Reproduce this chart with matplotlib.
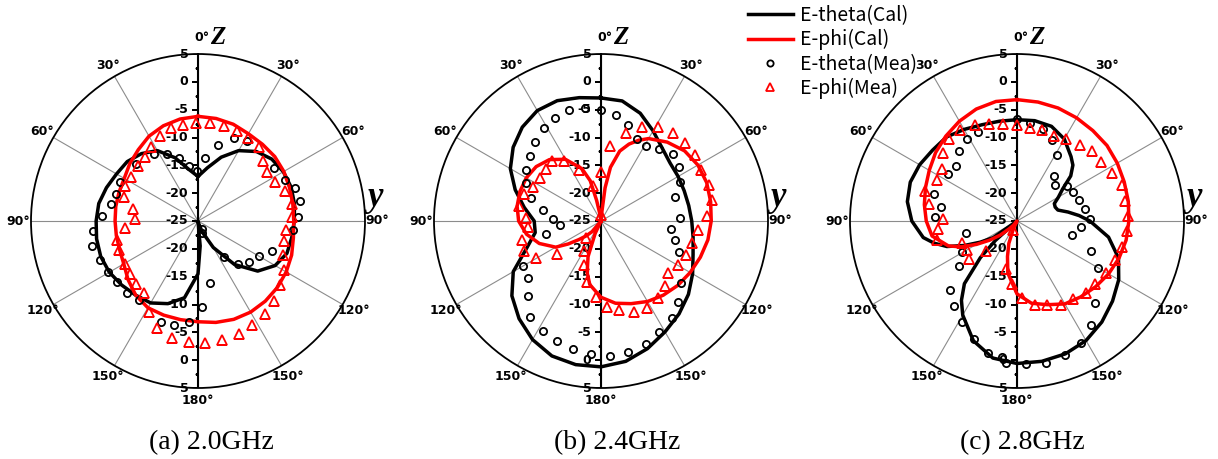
import matplotlib.pyplot as plt
import numpy as np
from matplotlib.lines import Line2D

# angles in degrees, clockwise from +z (top); levels in dB

# ---------- (a) 2.0GHz ----------
a_th_cal_ang = [0, 10, 20, 30, 40, 50, 60, 70, 80, 90, 100, 110, 120, 130, 140, 150, 160, 165,
                170, 175, 180, 190, 200, 210, 220, 230, 240, 250, 260, 270, 280, 290, 300, 310,
                320, 330, 340, 350, 360]
a_th_cal_db = [-17.0, -15.3, -12.8, -10.4, -8.7, -7.7, -7.3, -7.2, -7.4, -7.7, -7.9, -8.0, -9.0,
               -11.0, -14.8, -19.5, -23.0, -24.5, -25.0, -20.5, -15.5, -11.0, -9.2, -8.0, -7.6,
               -7.1, -6.6, -6.4, -6.5, -6.7, -6.9, -7.5, -8.1, -8.4, -9.2, -10.4, -12.9, -15.6,
               -17.0]
a_ph_cal_ang = list(range(0, 361, 10))
a_ph_cal_db = [-6.2, -6.3, -6.5, -6.9, -7.0, -7.0, -7.2, -7.5, -7.7, -7.8, -7.6, -7.1, -6.7,
               -6.4, -6.2, -6.1, -6.2, -6.5, -6.9, -7.0, -7.0, -7.0, -7.6, -8.6, -9.6, -10.0,
               -10.1, -10.1, -10.0, -9.9, -9.7, -9.0, -8.3, -7.4, -6.8, -6.4, -6.2]
a_th_mea_ang = [6.4, 14.5, 23.1, 31.3, 55, 64.5, 71.3, 79, 87.7, 95.6, 112, 120.2, 129, 136.8,
                144.5, 155, 164, 169.3, 177.4, 184.9, 193.1, 200.3, 216.8, 224.7, 232.7, 240.6,
                248.6, 256.6, 264.6, 272.8, 280.8, 288.3, 296.7, 312.5, 327, 335.3, 343.6,
                350.4, 358.9]
a_th_mea_db = [-13.7, -10.9, -8.7, -8.1, -8.4, -7.7, -6.6, -6.4, -7.1, -7.8, -10.7, -12.4,
               -13.3, -14.5, -17.1, -23.4, -22.7, -13.7, -9.5, -6.7, -5.8, -5.6, -7.2, -6.9,
               -6.8, -6.4, -6.0, -5.5, -6.1, -7.8, -9.0, -9.4, -9.4, -9.8, -10.6, -11.7, -13.2,
               -15.0, -16.0]
a_ph_mea_ang = [358.8, 6.8, 15.2, 23.3, 30.8, 39.3, 47.3, 54.6, 63.2, 71, 79.6, 87.6, 96, 103.1,
                112, 119.4, 128, 136.5, 144, 152.4, 160.2, 168.6, 176.6, 184.4, 192.6, 201,
                208.5, 216.7, 224.5, 232, 239.8, 249.5, 257, 264.5, 272, 280.7, 287.9, 295.7,
                303.4, 312.3, 320.2, 327.8, 335.6, 343.8, 351.2]
a_ph_mea_db = [-7.4, -7.3, -7.4, -7.3, -7.6, -7.8, -9.0, -9.8, -9.5, -8.4, -7.8, -8.1, -9.1,
               -9.2, -8.6, -7.2, -6.3, -5.2, -4.4, -3.9, -3.5, -3.2, -3.1, -3.2, -3.5, -4.4,
               -6.4, -8.9, -9.2, -9.5, -9.8, -9.9, -10.1, -11.9, -13.6, -13.1, -11.0, -10.5,
               -10.5, -10.4, -10.1, -9.3, -8.3, -7.6, -7.5]

# ---------- (b) 2.4GHz ----------
b_th_cal_ang = list(range(0, 361, 10))
b_th_cal_db = [-2.9, -3.1, -4.4, -6.3, -7.9, -8.8, -9.0, -9.1, -9.0, -8.7, -8.2, -7.4, -6.0,
               -4.5, -3.2, -2.0, -0.6, 0.6, 1.2, 1.2, 0.8, -0.4, -2.1, -4.1, -6.8, -10.8, -13.0,
               -13.0, -11.0, -8.6, -6.2, -4.4, -3.0, -2.1, -2.0, -2.5, -2.9]
b_ph_cal_ang = [0, 4, 7, 10, 15, 20, 25, 30, 40, 50, 60, 70, 80, 90, 100, 110, 120, 130, 140,
                150, 160, 170, 180, 190, 195, 200, 205, 210, 215, 220, 225, 230, 235, 240, 250,
                260, 270, 280, 290, 300, 310, 320, 330, 340, 345, 348, 352, 355, 360]
b_ph_cal_db = [-25.0, -24.0, -19.0, -15.2, -12.0, -10.3, -9.0, -7.9, -6.5, -5.4, -4.9, -4.8,
               -5.0, -5.2, -5.5, -6.0, -6.5, -7.0, -7.6, -8.3, -9.2, -10.0, -11.3, -13.4, -15.4,
               -18.2, -22.5, -25.0, -25.0, -22.5, -21.2, -19.8, -17.8, -15.6, -13.2, -11.4,
               -10.2, -9.7, -9.5, -9.5, -9.8, -10.6, -12.2, -15.0, -17.5, -21.2, -24.0, -25.0,
               -25.0]
b_th_mea_ang = [0, 8, 15.8, 23.4, 31.1, 39.1, 47.1, 55.1, 63.7, 72, 87.6, 96.2, 104.2, 112,
                128, 136.3, 144.1, 152.4, 160, 168.2, 176.2, 184.4, 192.1, 200.3, 207.9, 216.3,
                224.4, 232.3, 240.1, 256.5, 264.9, 272, 280.4, 288.4, 296.9, 304.4, 312.5,
                320.4, 328.5, 336, 343.9, 352]
b_th_mea_db = [-5.0, -5.7, -7.0, -8.9, -9.2, -8.4, -7.4, -7.9, -9.2, -11.1, -10.8, -12.3,
               -11.3, -9.9, -6.8, -4.9, -3.4, -2.4, -1.5, -1.0, -0.7, -1.0, -1.4, -2.1, -2.6,
               -3.5, -6.2, -8.4, -8.8, -14.8, -17.6, -16.3, -14.4, -11.8, -9.9, -8.7, -7.7,
               -6.5, -5.5, -4.7, -4.3, -4.5]
b_ph_mea_ang = [0, 6.8, 15.9, 23.4, 31.1, 39.3, 47.1, 55.1, 63.3, 71.5, 79.4, 87.5, 95.5,
                103.3, 112, 120, 128, 135.6, 143.6, 152.2, 159.9, 168.4, 176.2, 183.7, 193.2,
                200.9, 209, 222.6, 233.1, 240.7, 248.7, 256.7, 265.3, 272.3, 280.4, 289, 296.7,
                305.2, 313.4, 320.9, 328.6, 336.9, 347.9, 355]
b_ph_mea_db = [-16.2, -11.4, -8.6, -6.6, -5.3, -4.6, -4.4, -4.4, -4.8, -4.5, -4.8, -5.9, -7.5,
               -8.2, -8.6, -9.1, -9.7, -8.6, -7.8, -7.4, -7.6, -8.6, -9.5, -11.3, -13.8, -16.6,
               -18.8, -20.9, -15.1, -11.6, -10.2, -10.5, -11.9, -11.6, -10.1, -10.3, -11.4,
               -11.6, -11.4, -11.1, -12.3, -15.0, -18.5, -24.0]

# ---------- (c) 2.8GHz ----------
c_th_cal_ang = [0, 10, 20, 30, 40, 45, 50, 55, 60, 65, 70, 75, 80, 85, 90, 100, 110, 120, 130,
                140, 150, 160, 170, 180, 190, 200, 210, 215, 220, 225, 228, 231, 235, 240, 245,
                250, 255, 260, 270, 280, 290, 300, 310, 320, 330, 340, 350, 360]
c_th_cal_db = [-6.8, -6.7, -6.9, -8.0, -9.9, -10.8, -12.4, -15.0, -16.4, -17.6, -17.7, -17.4,
               -15.7, -13.8, -11.9, -8.3, -5.6, -3.9, -2.6, -1.3, -0.2, 0.4, 0.6, 0.6, 0.0,
               -2.1, -5.5, -7.6, -10.3, -15.7, -19.8, -25.0, -19.8, -17.4, -14.6, -11.6, -9.6,
               -7.9, -6.1, -5.0, -4.6, -4.8, -5.2, -5.3, -6.0, -6.6, -6.8, -6.8]
c_ph_cal_ang = [0, 10, 20, 30, 40, 50, 60, 70, 80, 90, 100, 110, 120, 130, 140, 150, 160, 170,
                180, 190, 195, 200, 205, 210, 215, 220, 225, 230, 235, 240, 245, 250, 260, 270,
                280, 290, 300, 310, 320, 330, 340, 350, 360]
c_ph_cal_db = [-3.2, -3.3, -3.4, -3.6, -3.8, -3.9, -4.2, -4.5, -4.7, -4.9, -5.1, -5.5, -6.0,
               -6.6, -7.2, -7.8, -9.0, -10.0, -11.9, -15.5, -18.4, -20.7, -23.5, -25.0, -25.0,
               -24.0, -23.0, -21.0, -19.0, -16.6, -14.0, -11.9, -9.5, -8.7, -8.1, -7.5, -6.8,
               -5.9, -5.1, -4.3, -3.6, -3.2, -3.2]
c_th_mea_ang = [0, 7.4, 15.7, 23.5, 31.1, 39.2, 46.6, 55, 62.9, 71, 79.8, 88.2, 95.4, 103.9,
                112, 120.1, 136.4, 144.5, 152.1, 160.4, 168.4, 176.3, 184.3, 186.1, 192.3, 200,
                208.4, 216.6, 224.2, 232.4, 240.9, 256.8, 272.8, 280.5, 288.2, 304.5, 312.2,
                320.2, 328.4, 336.5]
c_th_mea_db = [-6.6, -7.3, -7.8, -9.1, -11.1, -14.6, -15.7, -14.1, -13.6, -13.2, -12.5, -11.8,
               -13.5, -14.8, -10.7, -8.2, -4.6, -2.0, -0.3, 0.5, 1.1, 0.8, 0.5, -0.4, -0.7,
               -2.4, -4.4, -5.9, -7.8, -11.8, -13.6, -15.6, -10.2, -11.2, -9.3, -10.0, -10.2,
               -8.7, -7.7, -7.5]
c_ph_mea_ang = [0, 7.8, 15.3, 23.2, 30.9, 39.6, 47, 55, 63.1, 70.9, 79.7, 87.6, 95.4, 103.8,
                111.4, 120.2, 128.7, 136.1, 144.4, 152.6, 160.2, 168.1, 176.3, 184.6, 192.4,
                203, 225.6, 232, 240, 248.7, 256.9, 264.5, 271.8, 280.7, 288, 296.8, 304.9,
                312.5, 320.3, 328.2, 336.3, 343.8, 351.8]
c_ph_mea_db = [-7.7, -8.1, -8.0, -8.3, -7.8, -7.2, -6.6, -6.5, -5.8, -5.1, -5.2, -5.1, -5.2,
               -5.5, -6.0, -6.5, -7.0, -7.1, -7.7, -8.0, -8.9, -9.6, -11.1, -13.7, -16.1, -23.2,
               -17.3, -14.0, -14.7, -14.3, -10.3, -10.7, -11.7, -8.9, -7.6, -8.8, -8.6, -6.9,
               -5.8, -5.7, -6.1, -6.8, -7.4]

captions = ["(a) 2.0GHz", "(b) 2.4GHz", "(c) 2.8GHz"]
legend_labels = ["E-theta(Cal)", "E-phi(Cal)", "E-theta(Mea)", "E-phi(Mea)"]

RMIN, RMAX = -25, 5
RED = "#ff0000"
BOLD = dict(family="DejaVu Sans", weight="bold", size=9)


def rad(deg):
    return np.deg2rad(np.asarray(deg, dtype=float))


def draw_panel(ax, th_cal, ph_cal, th_mea, ph_mea):
    ax.set_theta_zero_location("N")
    ax.set_theta_direction(-1)
    ax.set_rlim(RMIN, RMAX)
    ax.set_yticks([])
    ax.set_xticks(rad(np.arange(0, 360, 30)))
    ax.set_xticklabels([])
    ax.tick_params(axis="x", length=0)
    ax.grid(True, color="#8c8c8c", lw=0.8)
    ax.spines["polar"].set_linewidth(1.3)
    ax.set_facecolor("none")

    # vertical z axis with ticks and labels on both halves
    ax.plot([0, 0], [RMIN, RMAX], color="k", lw=1.5, zorder=3)
    ax.plot([np.pi, np.pi], [RMIN, RMAX], color="k", lw=1.5, zorder=3)
    major = np.arange(-25, 6, 5)
    minor = np.arange(-22.5, 5, 5)
    tick = [(-1, 0), (0, 0)]
    for t in (0, np.pi):
        ax.plot(np.full(len(major), t), major, ls="none", marker=tick, ms=8.5,
                mew=1.2, color="k", zorder=3)
        ax.plot(np.full(len(minor), t), minor, ls="none", marker=tick, ms=4.5,
                mew=1.0, color="k", zorder=3)
        for v in major:
            if t == np.pi and v == RMIN:
                continue
            ax.annotate(f"{v:g}", (t, v), xytext=(-7, 0), textcoords="offset points",
                        ha="right", va="center", zorder=4, **BOLD)

    # curves
    ax.plot(rad(th_cal[0]), th_cal[1], color="k", lw=2.5, zorder=5)
    ax.plot(rad(ph_cal[0]), ph_cal[1], color=RED, lw=2.5, zorder=5)
    ax.plot(rad(th_mea[0]), th_mea[1], ls="none", marker="o", ms=5.2, mfc="none",
            mec="k", mew=1.3, zorder=6)
    ax.plot(rad(ph_mea[0]), ph_mea[1], ls="none", marker="^", ms=6.5, mfc="none",
            mec=RED, mew=1.3, zorder=6)

    # angle labels
    k = 1.075
    for ang in range(30, 360, 30):
        if ang == 180:
            txt = "180°"
        else:
            txt = f"{min(ang, 360 - ang)}°"
        a = np.deg2rad(ang)
        ax.text(0.5 + 0.5 * k * np.sin(a), 0.5 + 0.5 * k * np.cos(a), txt,
                transform=ax.transAxes, ha="center", va="center", **BOLD)
    ax.text(0.512, 1.048, "0°", transform=ax.transAxes, ha="center", va="center", **BOLD)
    ax.text(0.56, 1.05, "Z", transform=ax.transAxes, ha="center", va="center",
            family="Liberation Serif", style="italic", weight="bold", size=18)
    ax.text(1.03, 0.57, "y", transform=ax.transAxes, ha="center", va="center",
            family="Liberation Serif", style="italic", weight="bold", size=25)


fig = plt.figure(figsize=(12.18, 4.59), dpi=100)
panels = [
    ((a_th_cal_ang, a_th_cal_db), (a_ph_cal_ang, a_ph_cal_db),
     (a_th_mea_ang, a_th_mea_db), (a_ph_mea_ang, a_ph_mea_db)),
    ((b_th_cal_ang, b_th_cal_db), (b_ph_cal_ang, b_ph_cal_db),
     (b_th_mea_ang, b_th_mea_db), (b_ph_mea_ang, b_ph_mea_db)),
    ((c_th_cal_ang, c_th_cal_db), (c_ph_cal_ang, c_ph_cal_db),
     (c_th_mea_ang, c_th_mea_db), (c_ph_mea_ang, c_ph_mea_db)),
]
centers_px = [198, 601, 1017]
cap_px = [211, 617, 1022]
R_PX, CY_PX = 167, 221
W, H = 1218, 459

for cx, data in zip(centers_px, panels):
    ax = fig.add_axes([(cx - R_PX) / W, (H - CY_PX - R_PX) / H, 2 * R_PX / W, 2 * R_PX / H],
                      projection="polar")
    draw_panel(ax, *data)

for x, cap in zip(cap_px, captions):
    fig.text(x / W, 1 - 443 / H, cap, ha="center", va="center",
             family="Liberation Serif", size=20)

handles = [
    Line2D([], [], color="k", lw=2.5),
    Line2D([], [], color=RED, lw=2.5),
    Line2D([], [], ls="none", marker="o", ms=4.5, mfc="none", mec="k", mew=1.3),
    Line2D([], [], ls="none", marker="^", ms=5.5, mfc="none", mec=RED, mew=1.3),
]
fig.legend(handles, legend_labels, loc="upper left", bbox_to_anchor=(748 / W, 1 - 5 / H),
           frameon=False, borderpad=0, borderaxespad=0, handlelength=2.3,
           handletextpad=0.36, labelspacing=0.17,
           prop=dict(family="Noto Sans CJK JP", size=14))

fig.savefig("out.png", dpi=100)
